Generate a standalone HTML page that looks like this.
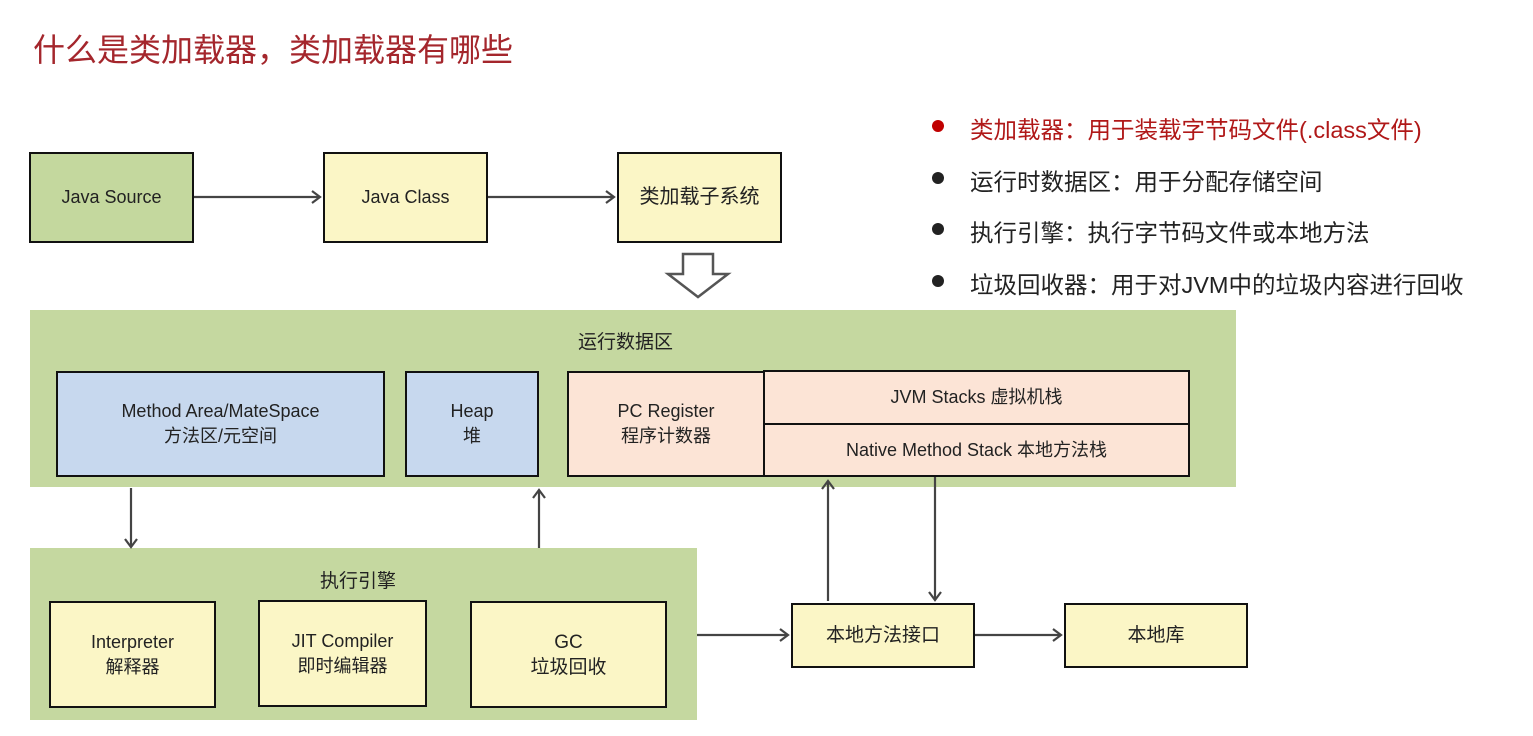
<!DOCTYPE html>
<html><head><meta charset="utf-8"><style>
body{margin:0;width:1533px;height:736px;background:#fff;position:relative;overflow:hidden;font-family:"Liberation Sans","Noto Sans CJK SC",sans-serif;}
.a{position:absolute;box-sizing:border-box;}
.b{border:2.5px solid #111;display:flex;align-items:center;justify-content:center;text-align:center;font-size:18px;line-height:25px;color:#222;}
.y{background:#fbf6c6}.g{background:#c4d89e}.bl{background:#c7d8ee}.p{background:#fce4d6}
.area{background:#c5d8a0}
.t{position:absolute;white-space:nowrap;font-size:23.5px;color:#222;}
.dot{position:absolute;width:12px;height:12px;border-radius:50%;background:#222;}
</style></head><body>
<div class="t" style="left:33px;top:25px;font-size:32px;color:#a4262c;">什么是类加载器，类加载器有哪些</div>

<div class="dot" style="left:932px;top:120px;background:#c00000"></div>
<div class="t" style="left:970px;top:111px;color:#b01818">类加载器：用于装载字节码文件(.class文件)</div>
<div class="dot" style="left:932px;top:172px"></div>
<div class="t" style="left:970px;top:163px">运行时数据区：用于分配存储空间</div>
<div class="dot" style="left:932px;top:223px"></div>
<div class="t" style="left:970px;top:214px">执行引擎：执行字节码文件或本地方法</div>
<div class="dot" style="left:932px;top:275px"></div>
<div class="t" style="left:970px;top:266px">垃圾回收器：用于对JVM中的垃圾内容进行回收</div>

<div class="a b g" style="left:29px;top:152px;width:165px;height:91px">Java Source</div>
<div class="a b y" style="left:323px;top:152px;width:165px;height:91px">Java Class</div>
<div class="a b y" style="left:617px;top:152px;width:165px;height:91px;font-size:20px">类加载子系统</div>

<div class="a area" style="left:30px;top:310px;width:1206px;height:177px"></div>
<div class="t" style="left:578px;top:327px;font-size:19px">运行数据区</div>
<div class="a b bl" style="left:56px;top:371px;width:329px;height:106px">Method Area/MateSpace<br>方法区/元空间</div>
<div class="a b bl" style="left:405px;top:371px;width:134px;height:106px">Heap<br>堆</div>
<div class="a b p" style="left:567px;top:371px;width:198px;height:106px">PC Register<br>程序计数器</div>
<div class="a b p" style="left:763px;top:370px;width:427px;height:55px">JVM Stacks 虚拟机栈</div>
<div class="a b p" style="left:763px;top:423px;width:427px;height:54px">Native Method Stack 本地方法栈</div>

<div class="a area" style="left:30px;top:548px;width:667px;height:172px"></div>
<div class="t" style="left:320px;top:566px;font-size:19px">执行引擎</div>
<div class="a b y" style="left:49px;top:601px;width:167px;height:107px">Interpreter<br>解释器</div>
<div class="a b y" style="left:258px;top:600px;width:169px;height:107px">JIT Compiler<br>即时编辑器</div>
<div class="a b y" style="left:470px;top:601px;width:197px;height:107px;font-size:19px">GC<br>垃圾回收</div>

<div class="a b y" style="left:791px;top:603px;width:184px;height:65px;font-size:19px">本地方法接口</div>
<div class="a b y" style="left:1064px;top:603px;width:184px;height:65px;font-size:19px">本地库</div>

<svg class="a" style="left:0;top:0" width="1533" height="736">
<g stroke="#444" stroke-width="2.2" fill="none">
<line x1="194" y1="197" x2="320" y2="197"/><polyline points="312,191 320,197 312,203"/>
<line x1="488" y1="197" x2="614" y2="197"/><polyline points="606,191 614,197 606,203"/>
<line x1="131" y1="488" x2="131" y2="547"/><polyline points="125,539 131,547 137,539"/>
<line x1="539" y1="548" x2="539" y2="490"/><polyline points="533,498 539,490 545,498"/>
<line x1="828" y1="601" x2="828" y2="481"/><polyline points="822,489 828,481 834,489"/>
<line x1="935" y1="477" x2="935" y2="600"/><polyline points="929,592 935,600 941,592"/>
<line x1="697" y1="635" x2="788" y2="635"/><polyline points="780,629 788,635 780,641"/>
<line x1="975" y1="635" x2="1061" y2="635"/><polyline points="1053,629 1061,635 1053,641"/>
</g>
<polygon points="683,254 713,254 713,274 728,274 698,297 668,274 683,274" fill="#fff" stroke="#555" stroke-width="2.5"/>
</svg>
</body></html>
